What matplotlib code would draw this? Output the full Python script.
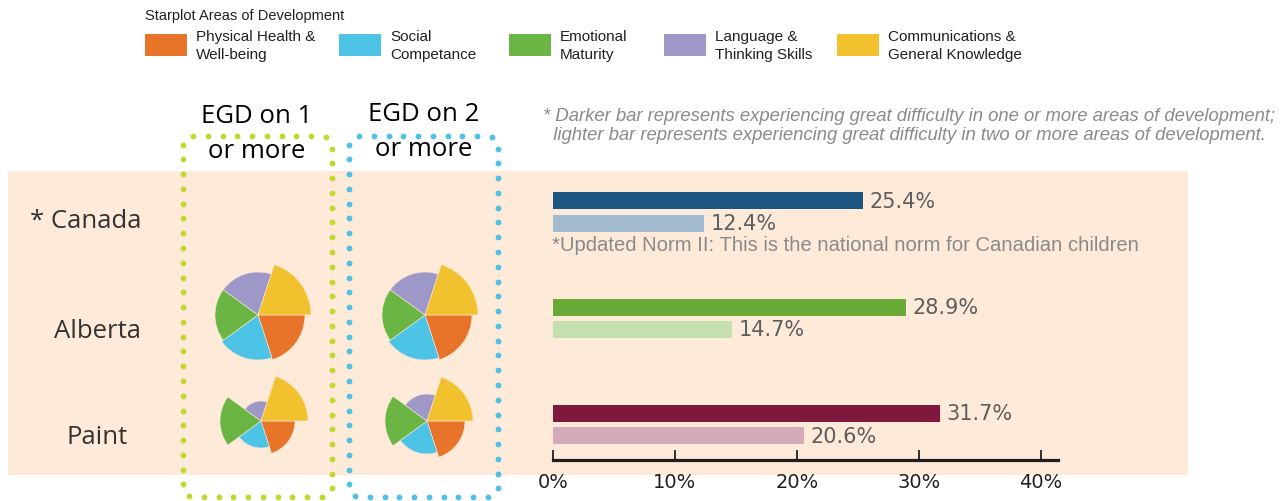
import matplotlib.pyplot as plt
import numpy as np
from matplotlib.patches import Rectangle, FancyBboxPatch

W, H = 1287, 502
DPI = 100

domains = ["Physical Health &\nWell-being", "Social\nCompetance", "Emotional\nMaturity",
           "Language &\nThinking Skills", "Communications &\nGeneral Knowledge"]
domain_colors = ["#E8742A", "#4DC3E6", "#6BB545", "#9E98C8", "#F2C12E"]

regions = ["* Canada", "Alberta", "Paint"]
egd_one = [25.4, 28.9, 31.7]
egd_two = [12.4, 14.7, 20.6]
dark_colors = ["#1B5580", "#6AA936", "#80183D"]
light_colors = ["#A3BBD0", "#C5DFAE", "#D4AAB8"]

# starplot radii, one value per domain (same order as domains)
alberta_egd1 = [47, 45, 43, 43, 53]
alberta_egd2 = [47, 45, 43, 43, 53]
paint_egd1 = [34, 27, 41, 20, 47]
paint_egd2 = [38, 33, 42, 27, 46]
star_max = 60

ticks = [0, 10, 20, 30, 40]

fig = plt.figure(figsize=(W / DPI, H / DPI), dpi=DPI)

# overlay in pixel coords for background / boxes / text
ov = fig.add_axes([0, 0, 1, 1], zorder=0)
ov.set_xlim(0, W)
ov.set_ylim(H, 0)
ov.axis("off")

ov.add_patch(Rectangle((8, 172), 1180, 304, color="#FEEAD8", lw=0))


def dotted_outline(x0, y0, w, h, step=14.7):
    box = FancyBboxPatch((x0, y0), w, h, boxstyle="round,pad=0,rounding_size=10")
    pts = np.vstack(box.get_path().to_polygons())
    seg = np.hypot(*np.diff(pts, axis=0).T)
    s = np.concatenate([[0], np.cumsum(seg)])
    n = int(round(s[-1] / step))
    t = np.linspace(0, s[-1], n, endpoint=False)
    return np.interp(t, s, pts[:, 0]), np.interp(t, s, pts[:, 1])


for x0, col in [(183, "#C3D82E"), (349, "#4FC0E6")]:
    xs, ys = dotted_outline(x0, 137, 149, 361)
    ov.plot(xs, ys, "o", color=col, ms=4.2, mew=0)

sans = "Liberation Sans"
ov.text(145, 16, "Starplot Areas of Development", fontsize=10.5, family=sans,
        color="#231F20", va="center")
leg_x = [145, 339, 509, 664, 837]
for lx, lab, col in zip(leg_x, domains, domain_colors):
    ov.add_patch(Rectangle((lx, 35), 42, 22, color=col, lw=0))
    ov.text(lx + 51, 46, lab, fontsize=11, family=sans, color="#231F20",
            va="center", linespacing=1.3)

ov.text(257, 134, "EGD on 1\nor more", fontsize=18.5, family="Open Sans", ha="center",
        va="center", color="black", linespacing=1.55)
ov.text(424, 132, "EGD on 2\nor more", fontsize=18.5, family="Open Sans", ha="center",
        va="center", color="black", linespacing=1.55)

ov.text(543, 126, "* Darker bar represents experiencing great difficulty in one or more areas of development;\n"
        "  lighter bar represents experiencing great difficulty in two or more areas of development.",
        fontsize=13.3, family=sans, style="italic", color="#8A8A8A", va="center", linespacing=1.1)

for lab, yy, xx in zip(regions, [222, 332, 438], [86, 97, 97]):
    ov.text(xx, yy, lab, fontsize=18.5, family="Open Sans", color="#333333",
            ha="center", va="center")

ov.text(552, 246, "*Updated Norm II: This is the national norm for Canadian children",
        fontsize=14.6, family=sans, color="#8A8A8A", va="center")

# bar chart
bx0, bx1, by0, by1 = 553, 1058, 172, 461
ax = fig.add_axes([bx0 / W, (H - by1) / H, (bx1 - bx0) / W, (by1 - by0) / H], zorder=1)
ax.set_facecolor("none")
pos = np.arange(len(regions))
off = 0.105
ax.barh(pos - off, egd_one, height=0.16, color=dark_colors)
ax.barh(pos + off, egd_two, height=0.16, color=light_colors)
for p, v in zip(pos - off, egd_one):
    ax.text(v + 0.55, p, f"{v}%", va="center", fontsize=15, color="#5E5E5E")
for p, v in zip(pos + off, egd_two):
    ax.text(v + 0.55, p, f"{v}%", va="center", fontsize=15, color="#5E5E5E")
ax.set_xlim(0, 41.4)
ax.set_ylim(2.335, -0.387)
ax.set_xticks(ticks)
ax.set_xticklabels([f"{t}%" for t in ticks])
ax.set_yticks([])
for s in ["top", "right", "left"]:
    ax.spines[s].set_visible(False)
ax.spines["bottom"].set_linewidth(2.3)
ax.spines["bottom"].set_color("#231F20")
ax.tick_params(axis="x", direction="in", length=7, width=1.3, color="#231F20",
               labelcolor="#231F20", labelsize=14, pad=9)

# starplots
angles = np.deg2rad(324 - 72 * np.arange(5))
stars = [(258, 316, alberta_egd1), (425, 316, alberta_egd2),
         (261, 422, paint_egd1), (427, 422, paint_egd2)]
R = 60
for cx, cy, vals in stars:
    pa = fig.add_axes([(cx - R) / W, (H - cy - R) / H, 2 * R / W, 2 * R / H],
                      projection="polar", zorder=2)
    pa.set_facecolor("none")
    pa.bar(angles, vals, width=np.deg2rad(72), color=domain_colors, lw=0.4, ec="#FEEAD8")
    pa.set_ylim(0, star_max)
    pa.axis("off")

fig.savefig("out.png", dpi=DPI)
